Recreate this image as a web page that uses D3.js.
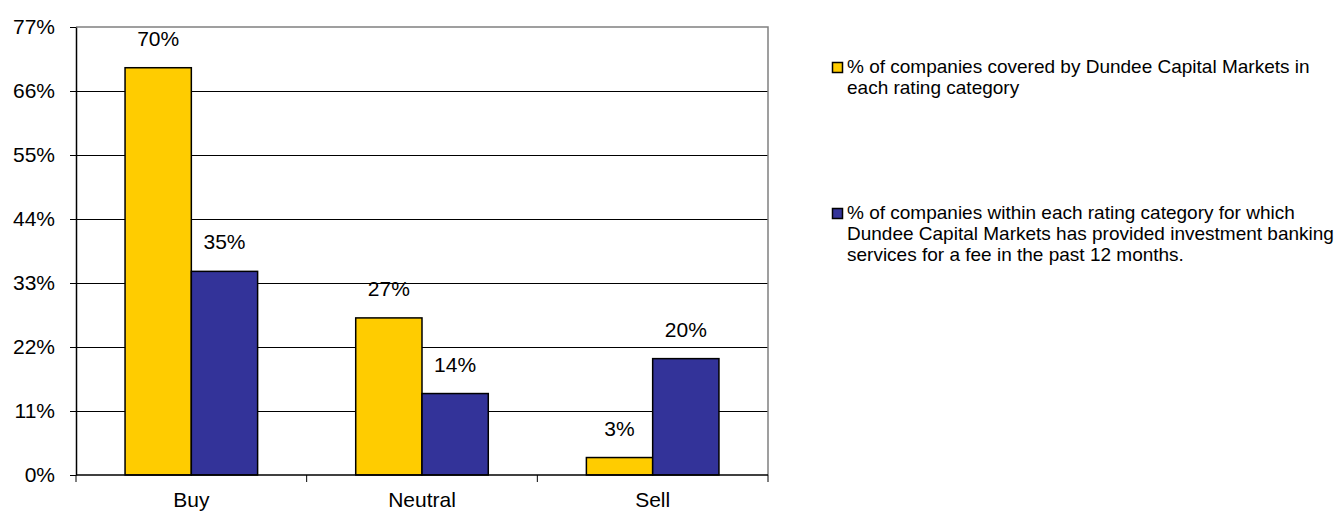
<!DOCTYPE html>
<html>
<head>
<meta charset="utf-8">
<script src="https://cdn.jsdelivr.net/npm/d3@7"></script>
<style>
  body { margin: 0; background: #fff; }
  svg text { font-family: "Liberation Sans", Arial, sans-serif; fill: #000; }
</style>
</head>
<body>
<script>
// chart data
const categories = ["Buy", "Neutral", "Sell"];
const seriesNames = [
  "% of companies covered by Dundee Capital Markets in each rating category",
  "% of companies within each rating category for which Dundee Capital Markets has provided investment banking services for a fee in the past 12 months."
];
const coveredPct = [70, 27, 3];
const bankingPct = [35, 14, 20];
const yTicks = [0, 11, 22, 33, 44, 55, 66, 77];
const legendLines = [
  ["% of companies covered by Dundee Capital Markets in", "each rating category"],
  ["% of companies within each rating category for which", "Dundee Capital Markets has provided investment banking", "services for a fee in the past 12 months."]
];

const width = 1335, height = 514;
const plotLeft = 76, plotRight = 768, plotTop = 27, plotBottom = 475;
const colors = ["#FFCC00", "#333399"];

const svg = d3.select("body").append("svg")
  .attr("width", width)
  .attr("height", height);

const x0 = d3.scaleBand().domain(categories).range([plotLeft, plotRight]).padding(0);
const x1 = d3.scaleBand().domain([0, 1]).range([0, x0.bandwidth()])
  .paddingInner(0).paddingOuter(0.74);
const y = d3.scaleLinear().domain([0, 77]).range([plotBottom, plotTop]);

// gridlines
svg.append("g").selectAll("line")
  .data(yTicks.slice(1, -1))
  .enter().append("line")
  .attr("x1", plotLeft).attr("x2", plotRight)
  .attr("y1", d => y(d)).attr("y2", d => y(d))
  .attr("stroke", "#000").attr("stroke-width", 1)
  .attr("shape-rendering", "crispEdges");

// top and right border (grey)
svg.append("path")
  .attr("d", `M${plotLeft},${y(77)}H${plotRight}V${plotBottom}`)
  .attr("fill", "none").attr("stroke", "#808080").attr("stroke-width", 1.5);

// bars
const rows = categories.map((c, i) => ({ cat: c, vals: [coveredPct[i], bankingPct[i]] }));
const groups = svg.append("g").selectAll("g")
  .data(rows)
  .enter().append("g")
  .attr("transform", d => "translate(" + x0(d.cat) + ",0)");

groups.selectAll("rect")
  .data(d => d.vals.map((v, k) => ({ k: k, v: v })))
  .enter().append("rect")
  .attr("x", d => x1(d.k))
  .attr("width", x1.bandwidth())
  .attr("y", d => y(d.v))
  .attr("height", d => y(0) - y(d.v))
  .attr("fill", d => colors[d.k])
  .attr("stroke", "#000")
  .attr("stroke-width", 1.5);

groups.selectAll("text")
  .data(d => d.vals.map((v, k) => ({ k: k, v: v })))
  .enter().append("text")
  .attr("x", d => x1(d.k) + x1.bandwidth() / 2)
  .attr("y", d => y(d.v) - 22)
  .attr("text-anchor", "middle")
  .style("font-size", "21px")
  .text(d => d.v + "%");

// y axis
const yAxis = d3.axisLeft(y)
  .tickValues(yTicks)
  .tickSize(6)
  .tickSizeOuter(0)
  .tickPadding(15)
  .tickFormat(d => d + "%");
const gy = svg.append("g")
  .attr("transform", "translate(" + plotLeft + ",0)")
  .call(yAxis);
gy.select(".domain").attr("stroke", "#000").attr("stroke-width", 1.5);
gy.selectAll(".tick line").attr("stroke", "#000");
gy.selectAll("text").style("font-size", "21px").attr("fill", "#000");
gy.attr("font-family", null).attr("font-size", null);

// x axis
const gx = svg.append("g");
gx.append("line")
  .attr("x1", plotLeft).attr("x2", plotRight)
  .attr("y1", plotBottom).attr("y2", plotBottom)
  .attr("stroke", "#000").attr("stroke-width", 1.5);
const bounds = categories.map(c => x0(c)).concat([x0(categories[categories.length - 1]) + x0.bandwidth()]);
gx.selectAll(".btick")
  .data(bounds)
  .enter().append("line")
  .attr("x1", d => d).attr("x2", d => d)
  .attr("y1", plotBottom).attr("y2", plotBottom + 7)
  .attr("stroke", "#000");
gx.selectAll(".xlab")
  .data(categories)
  .enter().append("text")
  .attr("x", d => x0(d) + x0.bandwidth() / 2)
  .attr("y", 507)
  .attr("text-anchor", "middle")
  .style("font-size", "21px")
  .text(d => d);

// legend
const legendY = [73, 219];
const legend = svg.append("g").selectAll("g")
  .data(legendLines)
  .enter().append("g")
  .attr("transform", (d, i) => "translate(832," + legendY[i] + ")");

legend.append("rect")
  .attr("x", 0.5).attr("y", -10.5)
  .attr("width", 10).attr("height", 10)
  .attr("fill", (d, i) => colors[i])
  .attr("stroke", "#000").attr("stroke-width", 1.5);

legend.append("text")
  .attr("x", 15)
  .style("font-size", "19px")
  .selectAll("tspan")
  .data(d => d)
  .enter().append("tspan")
  .attr("x", 15)
  .attr("dy", (d, i) => i === 0 ? 0 : 21)
  .text(d => d);
</script>
</body>
</html>
